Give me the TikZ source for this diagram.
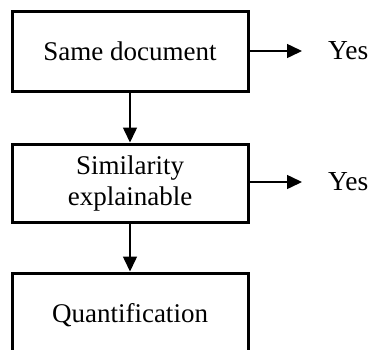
\documentclass[tikz,border=0pt]{standalone}
\usepackage{fontspec}
\setmainfont{Liberation Serif}
\usetikzlibrary{arrows.meta}
\begin{document}
\begin{tikzpicture}[x=1pt,y=1pt,
  stepbox/.style={draw=black, line width=3pt, minimum width=236pt, inner sep=0pt, align=center, font=\fontsize{27}{31}\selectfont},
  label/.style={inner xsep=26pt, inner ysep=0pt, anchor=west, font=\fontsize{27.5}{31}\selectfont},
  conn/.style={line width=1.5pt, -{Triangle[length=15pt,width=14pt]}}]
\useasboundingbox (0,0) rectangle (374,-349);
\node[stepbox, minimum height=80pt] (b1) at (130,-51) {Same document};
\node[stepbox, minimum height=78pt] (b2) at (130,-183) {Similarity\\explainable};
\node[stepbox, minimum height=84pt] (b3) at (130,-315) {Quantification};
\node[label] (y1) at (302,-51) {Yes};
\node[label] (y2) at (302,-182) {Yes};
\draw[conn] (b1.south) -- (b2.north);
\draw[conn] (b2.south) -- (b3.north);
\draw[conn] (b1.east |- y1.west) -- (y1.west);
\draw[conn] (b2.east |- y2.west) -- (y2.west);
\end{tikzpicture}
\end{document}
